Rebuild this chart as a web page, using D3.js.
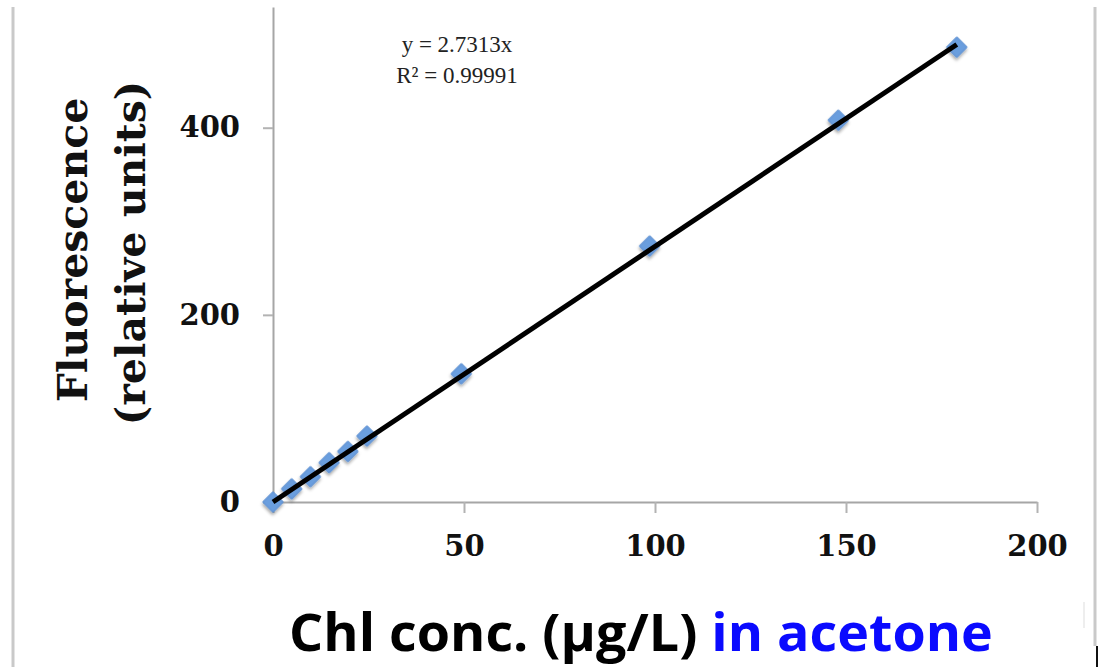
<!DOCTYPE html>
<html><head><meta charset="utf-8">
<script src="https://cdn.jsdelivr.net/npm/d3@7"></script>
<style>body{margin:0;background:#fff}svg{display:block}</style>
</head><body>
<svg id="c" width="1101" height="667"></svg>
<script>
const concentrations = [0, 4.9, 9.8, 14.7, 19.6, 24.6, 49.3, 98.6, 148, 179];
const fluorescence   = [0, 14, 27, 42, 54, 70.5, 137, 273.5, 408, 486];
const slope = 2.7313;
const xTicks = [0, 50, 100, 150, 200];
const yTicks = [0, 200, 400];
const eqLines = ["y = 2.7313x", "R² = 0.99991"];
const yTitle = ["Fluorescence", "(relative units)"];
const xTitleBlack = "Chl conc. (µg/L) ";
const xTitleBlue = "in acetone";

const svg = d3.select("#c");
const x = d3.scaleLinear().domain([0, 200]).range([273, 1037]);
const y = d3.scaleLinear().domain([0, 529]).range([502, 7]);

// frame
svg.append("line").attr("x1",13).attr("x2",13).attr("y1",7).attr("y2",667).attr("stroke","#c9c9c9").attr("stroke-width",3);
svg.append("line").attr("x1",1095).attr("x2",1095).attr("y1",7).attr("y2",646).attr("stroke","#c9c9c9").attr("stroke-width",3);
svg.append("line").attr("x1",1097).attr("x2",1097).attr("y1",646).attr("y2",667).attr("stroke","#111").attr("stroke-width",2);
svg.append("line").attr("x1",1084).attr("x2",1084).attr("y1",602).attr("y2",628).attr("stroke","#ddd").attr("stroke-width",1);

const defs = svg.append("defs");
const f = defs.append("filter").attr("id","sh").attr("x","-50%").attr("y","-50%").attr("width","200%").attr("height","200%");
f.append("feDropShadow").attr("dx",1.5).attr("dy",2).attr("stdDeviation",1.6).attr("flood-color","#000").attr("flood-opacity",0.35);

// axes
const xAxis = svg.append("g").attr("transform",`translate(0,${y(0)})`)
  .call(d3.axisBottom(x).tickValues(xTicks).tickSize(11).tickPadding(22).tickSizeOuter(0));
const yAxis = svg.append("g").attr("transform",`translate(${x(0)},0)`)
  .call(d3.axisLeft(y).tickValues(yTicks).tickSize(10).tickPadding(23).tickSizeOuter(0));
[xAxis, yAxis].forEach(g => {
  g.select(".domain").attr("stroke","#a6a6a6").attr("stroke-width",2);
  g.selectAll(".tick line").attr("stroke","#b3b3b3").attr("stroke-width",2);
  g.selectAll(".tick text").attr("fill","#111").attr("font-family","'DejaVu Serif'")
    .attr("font-weight","bold").attr("font-size",29);
});
xAxis.selectAll(".tick text").attr("dy","0.71em");

// markers
const pts = concentrations.map((c,i)=>({c, v: fluorescence[i]}));
svg.append("g").selectAll("path").data(pts).join("path")
  .attr("d", d3.symbol().type(d3.symbolSquare).size(210))
  .attr("transform", d => `translate(${x(d.c)},${y(d.v)}) rotate(45)`)
  .attr("fill","#6a9ede").attr("stroke","#5b90d2").attr("stroke-width",1)
  .attr("filter","url(#sh)");

// trendline
const xMax = d3.max(concentrations);
svg.append("line")
  .attr("x1", x(0)).attr("y1", y(0))
  .attr("x2", x(xMax)).attr("y2", y(slope*xMax))
  .attr("stroke","#000").attr("stroke-width",5);

// equation
svg.append("g").selectAll("text").data(eqLines).join("text")
  .attr("x", 457).attr("y",(d,i)=>52+i*31).attr("text-anchor","middle")
  .attr("font-family","'Liberation Serif'").attr("font-size",23).attr("fill","#222")
  .text(d=>d);

// y title
yTitle.forEach((t,i)=>{
  svg.append("text")
    .attr("transform",`translate(${87+i*58},${[250,253][i]}) rotate(-90)`)
    .attr("text-anchor","middle")
    .attr("font-family","'DejaVu Serif'").attr("font-weight","bold").attr("font-size",41)
    .attr("fill","#111").text(t);
});

// x title
const xt = svg.append("text").attr("x",0).attr("y",0)
  .attr("font-family","'Open Sans'").attr("font-weight","bold").attr("font-size",52);
xt.append("tspan").attr("fill","#000").text(xTitleBlack);
xt.append("tspan").attr("fill","#0a0aff").text(xTitleBlue);
const w = xt.node().getComputedTextLength();
const target = 993 - 289;
xt.attr("transform",`translate(289,651) scale(${target/w},1)`);
</script>
</body></html>
